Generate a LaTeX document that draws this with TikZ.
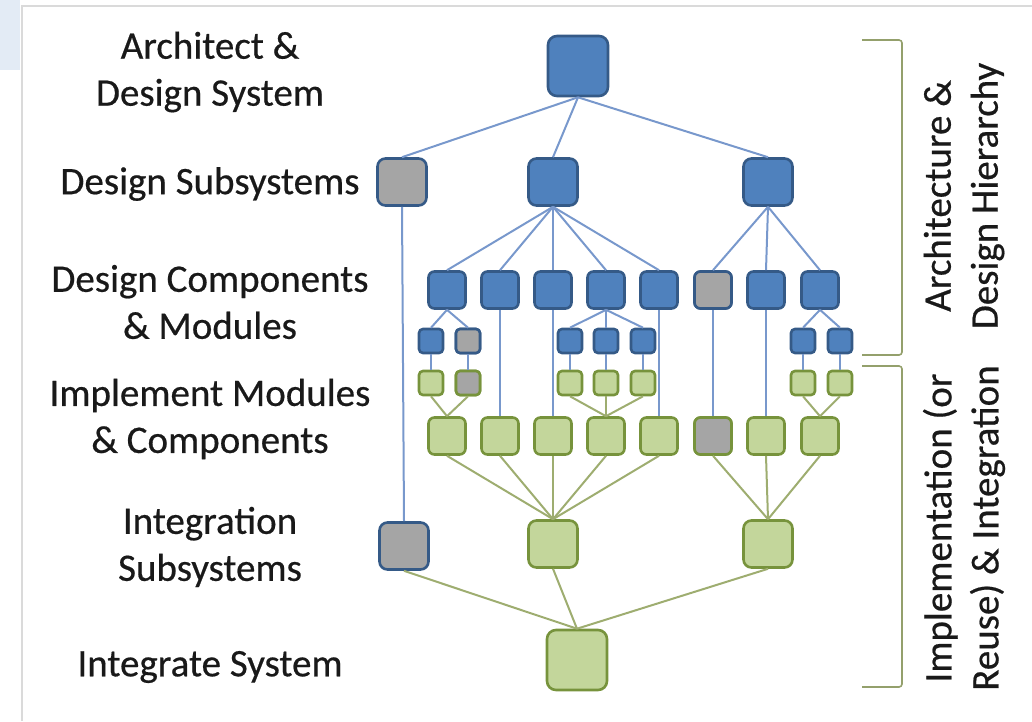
\documentclass[tikz,border=0pt]{standalone}
\usepackage{fontspec}
\setmainfont{Carlito}
\newfontface\etikett{Carlito}[FakeBold=0.5]
\usepackage{tikz}

\definecolor{blaufill}{HTML}{4F81BD}
\definecolor{blaurand}{HTML}{355A87}
\definecolor{gruenfill}{HTML}{C3D69B}
\definecolor{gruenrand}{HTML}{77933C}
\definecolor{graufill}{HTML}{A5A5A5}
\definecolor{blaulinie}{HTML}{7898CC}
\definecolor{gruenlinie}{HTML}{9EAD70}
\definecolor{klammer}{HTML}{94A06C}
\definecolor{rahmen}{HTML}{DADADA}
\definecolor{hellblau}{HTML}{E3EBF5}

\tikzset{
	kasten/.style={rounded corners=5pt,line width=2.6pt,inner sep=0pt},
	blau/.style={kasten,draw=blaurand,fill=blaufill},
	gruen/.style={kasten,draw=gruenrand,fill=gruenfill},
	grau/.style={kasten,draw=blaurand,fill=graufill},
	graugruen/.style={kasten,draw=gruenrand,fill=graufill},
	gross/.style={minimum width=60pt,minimum height=60pt,rounded corners=9pt},
	mittel/.style={minimum width=49pt,minimum height=47pt,rounded corners=8pt},
	komp/.style={minimum width=37pt,minimum height=37pt,rounded corners=6pt},
	modul/.style={minimum width=24pt,minimum height=24pt,rounded corners=4pt},
	bl/.style={draw=blaulinie,line width=2pt},
	gl/.style={draw=gruenlinie,line width=2pt},
	ebene/.style={align=center,text=black!90,font=\etikett\fontsize{39}{47}\selectfont}
}

\begin{document}
\begin{tikzpicture}[x=1pt,y=-1pt]
		\useasboundingbox (0,0) rectangle (1032,721);
		% Rahmen
		\fill[hellblau] (0,0) rectangle (20,70);
		\draw[rahmen,line width=1.2pt] (22,721) -- (22,6) -- (1032,6);
		% Beschriftung links
		\node[ebene] (l1) at (210,72) {Architect \&\\Design System};
		\node[ebene] (l2) at (210,184) {Design Subsystems};
		\node[ebene] (l3) at (210,302) {Design Components\\\& Modules};
		\node[ebene] (l4) at (210,419) {Implement Modules\\\& Components};
		\node[ebene] (l5) at (210,547) {Integration\\Subsystems};
		\node[ebene] (l6) at (210,667) {Integrate System};
		% Architektur
		\node[blau,gross] (sys) at (578,66) {};
		\node[grau,mittel] (sub1) at (402,182) {};
		\node[blau,mittel] (sub2) at (553,182) {};
		\node[blau,mittel] (sub3) at (768,182) {};
		\foreach \i/\x in {1/447,2/500,3/553,4/606,5/659,6/713,7/766,8/820}
			\node[blau,komp] (komp\i) at (\x,290) {};
		\node[grau,komp] at (komp6) {};
		\foreach \i/\x in {1/431,2/468,3/570,4/606,5/643,6/803,7/840}
			\node[blau,modul] (mod\i) at (\x,341) {};
		\node[grau,modul] at (mod2) {};
		% Implementierung
		\foreach \i/\x in {1/431,2/468,3/570,4/606,5/643,6/803,7/840}
			\node[gruen,modul] (imp\i) at (\x,383) {};
		\node[graugruen,modul] at (imp2) {};
		\foreach \i/\x in {1/447,2/500,3/553,4/606,5/659,6/713,7/766,8/820}
			\node[gruen,komp] (bau\i) at (\x,436) {};
		\node[graugruen,komp] at (bau6) {};
		\node[grau,mittel] (int1) at (404,546) {};
		\node[gruen,mittel] (int2) at (553,544) {};
		\node[gruen,mittel] (int3) at (768,544) {};
		\node[gruen,gross] (isys) at (577,660) {};
		% Linien blau
		\foreach \k in {sub1,sub2,sub3} \draw[bl] (sys.south) -- (\k.north);
		\foreach \k in {1,...,5} \draw[bl] (sub2.south) -- (komp\k.north);
		\foreach \k in {6,7,8} \draw[bl] (sub3.south) -- (komp\k.north);
		\foreach \k in {1,2} \draw[bl] (komp1.south) -- (mod\k.north);
		\foreach \k in {3,4,5} \draw[bl] (komp4.south) -- (mod\k.north);
		\foreach \k in {6,7} \draw[bl] (komp8.south) -- (mod\k.north);
		\foreach \k in {1,...,7} \draw[bl] (mod\k.south) -- (imp\k.north);
		\foreach \k in {2,3,5,6,7} \draw[bl] (komp\k.south) -- (bau\k.north);
		\draw[bl] (sub1.south) -- (int1.north);
		% Linien gruen
		\foreach \k in {1,2} \draw[gl] (imp\k.south) -- (bau1.north);
		\foreach \k in {3,4,5} \draw[gl] (imp\k.south) -- (bau4.north);
		\foreach \k in {6,7} \draw[gl] (imp\k.south) -- (bau8.north);
		\foreach \k in {1,...,5} \draw[gl] (bau\k.south) -- (int2.north);
		\foreach \k in {6,7,8} \draw[gl] (bau\k.south) -- (int3.north);
		\foreach \k in {int1,int2,int3} \draw[gl] (\k.south) -- (isys.north);
		% Klammern
		\draw[klammer,line width=1.6pt,rounded corners=3pt] (862,40) -- (902,40) -- (902,355) -- (862,355);
		\draw[klammer,line width=1.6pt,rounded corners=3pt] (862,366) -- (902,366) -- (902,687) -- (862,687);
		\node[ebene,rotate=90] (arch) at (964,196) {Architecture \&\\Design Hierarchy};
		\node[ebene,rotate=90] (impl) at (964,528) {Implementation (or\\Reuse) \& Integration};
	\end{tikzpicture}
\end{document}
